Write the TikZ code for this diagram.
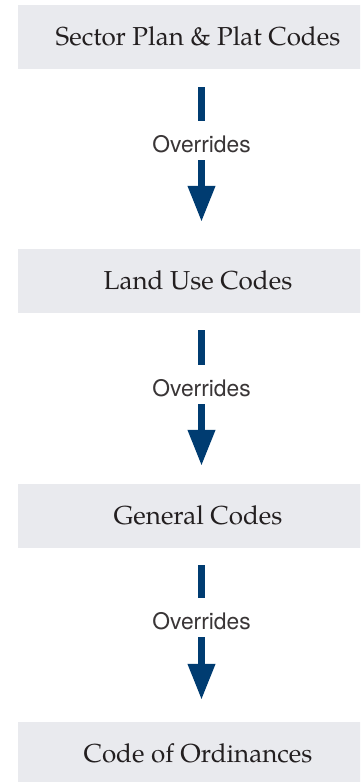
\documentclass[tikz,border=0pt]{standalone}
\usepackage{fontspec}
\setsansfont{TeX Gyre Heros}
\newfontfamily\palfont{TeX Gyre Pagella}
\usetikzlibrary{arrows.meta}
\definecolor{boxgray}{HTML}{E9EAEE}
\definecolor{navy}{HTML}{003C71}
\definecolor{ink}{HTML}{231F20}
\begin{document}
\begin{tikzpicture}[x=1pt,y=-1pt,
  codebox/.style={rectangle, fill=boxgray, minimum width=360pt, minimum height=64pt,
    inner sep=0pt, text=ink, font=\palfont\fontsize{26}{30}\selectfont,
    text height=20pt, text depth=4pt},
  overrides/.style={draw=navy, line width=7pt, -{Triangle[width=26pt,length=36pt]}},
  lbl/.style={fill=white, font=\sffamily\fontsize{22.8}{27}\selectfont, text=ink!90,
    inner xsep=2pt, inner ysep=0pt, text height=31.5pt, text depth=7.5pt}]
\useasboundingbox (0,0) rectangle (360,782);
\clip (0,0) rectangle (360,782);
\coordinate (axis) at (201.5,0);
\node[codebox] (b1) at (198,37)  {Sector Plan \& Plat Codes};
\node[codebox] (b2) at (198,281) {Land Use Codes};
\node[codebox] (b3) at (198,516) {General Codes};
\node[codebox] (b4) at (198,754) {Code of Ordinances};
\draw[overrides, shorten <=18pt, shorten >=27pt] (b1.south -| axis) -- node[lbl, pos=0.397] (o1) {Overrides} (b2.north -| axis);
\draw[overrides, shorten <=17pt, shorten >=18pt] (b2.south -| axis) -- node[lbl, pos=0.415] (o2) {Overrides} (b3.north -| axis);
\draw[overrides, shorten <=17pt, shorten >=22pt] (b3.south -| axis) -- node[lbl, pos=0.402] (o3) {Overrides} (b4.north -| axis);
\end{tikzpicture}
\end{document}
